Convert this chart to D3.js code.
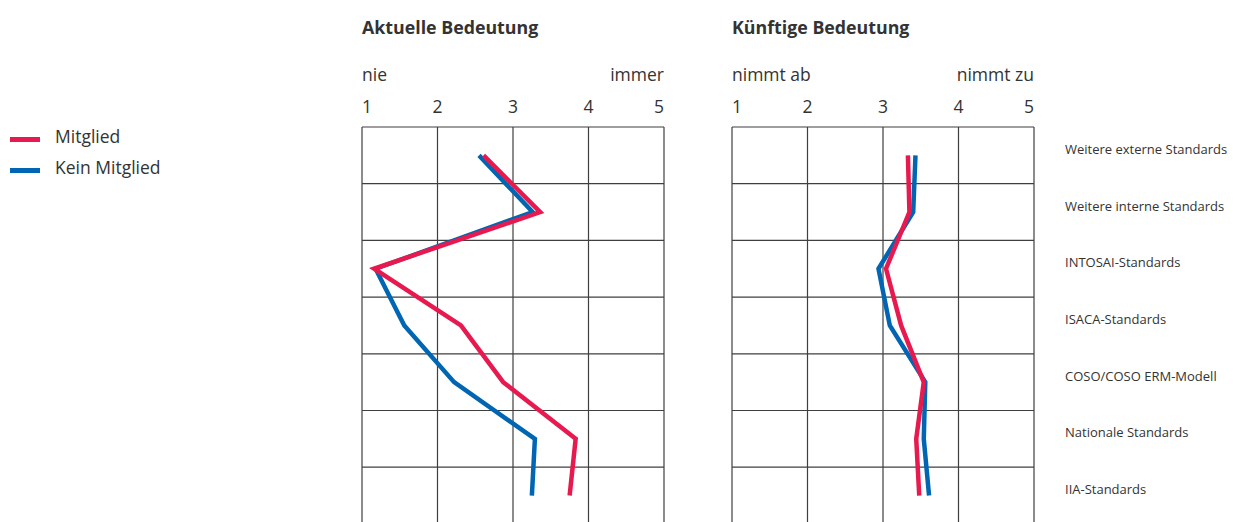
<!DOCTYPE html>
<html>
<head>
<meta charset="utf-8">
<script src="https://cdn.jsdelivr.net/npm/d3@7/dist/d3.min.js"></script>
<style>
  html, body { margin: 0; padding: 0; background: #fff; }
  svg { display: block; }
  text { font-family: "Open Sans", "Noto Sans", sans-serif; fill: #333; }
</style>
</head>
<body>
<svg id="chart" width="1233" height="522"></svg>
<script>
// Rating scale and categories (top to bottom)
const scaleTicks = [1, 2, 3, 4, 5];
const categories = [
  "Weitere externe Standards",
  "Weitere interne Standards",
  "INTOSAI-Standards",
  "ISACA-Standards",
  "COSO/COSO ERM-Modell",
  "Nationale Standards",
  "IIA-Standards"
];
const seriesNames = ["Mitglied", "Kein Mitglied"];

// Current importance (1 = nie ... 5 = immer)
const currentMember    = [2.61, 3.36, 1.16, 2.31, 2.87, 3.83, 3.75];
const currentNonMember = [2.55, 3.26, 1.18, 1.56, 2.22, 3.29, 3.25];

// Future importance (1 = nimmt ab ... 5 = nimmt zu)
const futureMember     = [3.33, 3.35, 3.04, 3.24, 3.54, 3.44, 3.48];
const futureNonMember  = [3.43, 3.40, 2.94, 3.09, 3.56, 3.54, 3.61];

const colors = { "Mitglied": "#e8194f", "Kein Mitglied": "#0066b3" };

const svg = d3.select("#chart");

const gridTop = 127;
const rowH = 56.7;
const y = d3.scaleBand()
  .domain(categories)
  .range([gridTop, gridTop + rowH * categories.length])
  .paddingInner(0).paddingOuter(0);

const panels = [
  { title: "Aktuelle Bedeutung", left: "nie", right: "immer", x0: 362, x1: 664,
    series: [["Kein Mitglied", currentNonMember], ["Mitglied", currentMember]] },
  { title: "Künftige Bedeutung", left: "nimmt ab", right: "nimmt zu", x0: 732, x1: 1034,
    series: [["Kein Mitglied", futureNonMember], ["Mitglied", futureMember]] }
];

panels.forEach(p => {
  const x = d3.scaleLinear().domain([1, 5]).range([p.x0, p.x1]);
  const g = svg.append("g");

  g.append("text").attr("x", p.x0).attr("y", 34)
    .attr("font-size", 17.8).attr("font-weight", 700).text(p.title);
  g.append("text").attr("x", p.x0).attr("y", 81)
    .attr("font-size", 17.5).text(p.left);
  g.append("text").attr("x", p.x1).attr("y", 81)
    .attr("text-anchor", "end").attr("font-size", 17.5).text(p.right);

  // scale numbers above the grid
  g.selectAll(".tick").data(scaleTicks).join("text")
    .attr("x", d => x(d))
    .attr("y", 113)
    .attr("font-size", 17.5)
    .attr("text-anchor", (d, i) => i === 0 ? "start" : (i === scaleTicks.length - 1 ? "end" : "middle"))
    .text(d => d);

  // grid
  const [yTop, yBot] = y.range();
  g.selectAll(".v").data(scaleTicks).join("line")
    .attr("x1", d => x(d)).attr("x2", d => x(d))
    .attr("y1", yTop).attr("y2", yBot)
    .attr("stroke", "#3f3f3f").attr("stroke-width", 1.2);
  const hLines = categories.map(c => y(c)).concat([yBot]);
  g.selectAll(".h").data(hLines).join("line")
    .attr("x1", p.x0).attr("x2", p.x1)
    .attr("y1", d => d).attr("y2", d => d)
    .attr("stroke", "#3f3f3f").attr("stroke-width", 1.2);

  // profile lines
  const line = d3.line()
    .x(d => x(d.v))
    .y(d => y(d.c) + y.bandwidth() / 2);
  p.series.forEach(([name, vals]) => {
    g.append("path")
      .datum(categories.map((c, i) => ({ c, v: vals[i] })))
      .attr("d", line)
      .attr("fill", "none")
      .attr("stroke", colors[name])
      .attr("stroke-width", 4.5)
      .attr("stroke-linejoin", "miter");
  });
});

// category labels on the right
svg.selectAll(".cat").data(categories).join("text")
  .attr("x", 1065)
  .attr("y", d => y(d) + y.bandwidth() / 2 - 1.5)
  .attr("font-size", 13)
  .text(d => d);

// legend
const legend = svg.append("g");
seriesNames.forEach((name, i) => {
  const ly = 139.5 + i * 31;
  legend.append("line")
    .attr("x1", 10).attr("x2", 40).attr("y1", ly).attr("y2", ly)
    .attr("stroke", colors[name]).attr("stroke-width", 5);
  legend.append("text")
    .attr("x", 55).attr("y", ly + 3.5).attr("font-size", 17.5).text(name);
});
</script>
</body>
</html>
